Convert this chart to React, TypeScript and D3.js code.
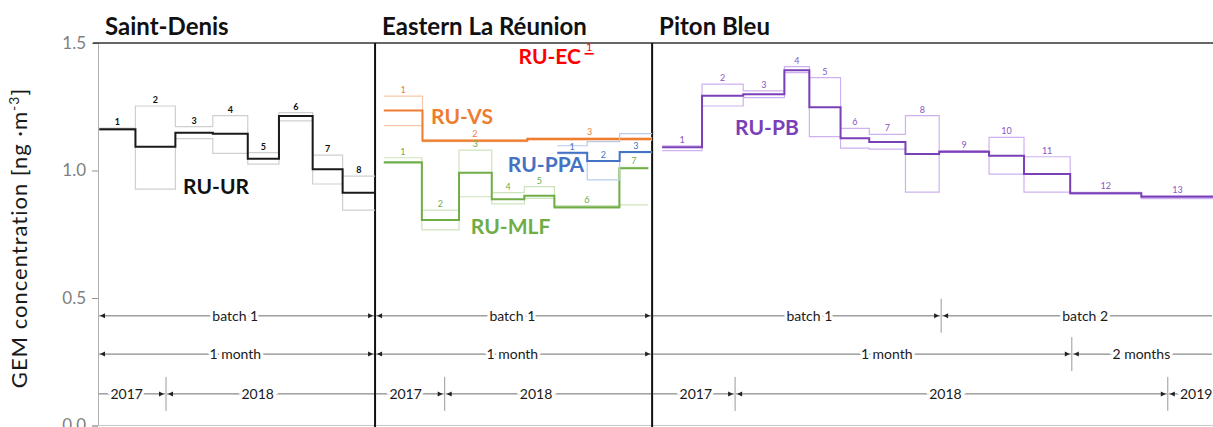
import React, { useEffect, useRef } from "react";
import * as d3 from "d3";

/*
    GEM concentration step chart for three La Réunion sites.
    Sample boundaries are days since the start of each panel's time window.
*/

// Saint-Denis, RU-UR
const urBounds = [1, 30, 62, 92, 120, 145, 172, 196, 222];
const urMean = [1.162, 1.093, 1.148, 1.144, 1.046, 1.214, 1.005, 0.913];
const urHigh = [1.166, 1.253, 1.172, 1.215, 1.07, 1.227, 1.06, 0.978];
const urLow = [1.158, 0.927, 1.125, 1.067, 1.025, 1.195, 0.947, 0.845];

// Eastern La Réunion
const vsBounds = [7, 38, 122, 222];
const vsMean = [1.235, 1.117, 1.124];
const vsHigh = [1.292, 1.121, 1.128];
const vsLow = [1.176, 1.113, 1.119];

const mlfBounds = [7, 37.5, 67.3, 93.5, 119.6, 143.7, 195.8, 219];
const mlfMean = [1.032, 0.806, 0.991, 0.887, 0.901, 0.856, 1.009];
const mlfHigh = [1.05, 0.845, 1.08, 0.913, 0.937, 0.862, 1.012];
const mlfLow = [1.028, 0.767, 0.897, 0.869, 0.891, 0.852, 0.865];

const ppaBounds = [146, 170, 196, 222];
const ppaMean = [1.07, 1.037, 1.073];
const ppaHigh = [1.097, 1.113, 1.145];
const ppaLow = [1.066, 0.963, 1.07];

const ecBounds = [168, 175];
const ecMean = [1.458];

// Piton Bleu, RU-PB
const pbBounds = [8, 40, 73, 106, 126, 151, 174, 203, 230, 270, 298, 335, 392, 450];
const pbMean = [1.091, 1.293, 1.299, 1.393, 1.248, 1.126, 1.112, 1.065, 1.074, 1.058, 0.986, 0.911, 0.897];
const pbHigh = [1.097, 1.339, 1.312, 1.407, 1.364, 1.165, 1.142, 1.215, 1.078, 1.13, 1.054, 0.914, 0.901];
const pbLow = [1.078, 1.253, 1.286, 1.384, 1.133, 1.088, 1.084, 0.915, 1.071, 0.986, 0.915, 0.908, 0.89];

const yTicks = [0, 0.5, 1.0, 1.5];
const panelTitles = ["Saint-Denis", "Eastern La Réunion", "Piton Bleu"];
const panelDays = [222, 222, 450];

// annotation rows: [label, start, end, label position] in days
const batchRows = [
    [["batch 1", 0, 222, 110]],
    [["batch 1", 0, 222, 110]],
    [["batch 1", 0, 231.6, 126], ["batch 2", 231.6, 450, 347]],
];
const monthRows = [
    [["1 month", 0, 222, 110]],
    [["1 month", 0, 222, 110]],
    [["1 month", 0, 336.3, 188], ["2 months", 336.3, 450, 392]],
];
const yearRows = [
    [["2017", 0, 54.5, 23], ["2018", 54.5, 222, 128]],
    [["2017", 0, 55.8, 24.5], ["2018", 55.8, 222, 129]],
    [["2017", 0, 66.5, 35], ["2018", 66.5, 413.2, 235], ["2019", 413.2, 450, 436]],
];

const App = () => {
    const svgRef = useRef(null);
    const width = 1213;
    const height = 427;
    const pxPerDay = 1.248;
    const axisX = 98;

    useEffect(() => {
        const svg = d3.select(svgRef.current);
        svg.selectAll("*").remove();

        const y = d3.scaleLinear().domain([0, 1.5]).range([425.5, 43]);

        let start = axisX;
        const xs = panelDays.map((days) => {
            const s = d3.scaleLinear().domain([0, days]).range([start, start + days * pxPerDay]);
            start += days * pxPerDay;
            return s;
        });

        const font = "Lato, 'Open Sans', sans-serif";

        // y axis
        const yAxis = d3.axisLeft(y).tickValues(yTicks).tickFormat(d3.format(".1f")).tickSize(6);
        const gy = svg.append("g").attr("transform", `translate(${axisX},0)`).call(yAxis);
        gy.select(".domain").attr("stroke", "#b0b0b0");
        gy.selectAll(".tick line").attr("stroke", "#909090");
        gy.selectAll(".tick text")
            .attr("fill", "#808080")
            .attr("font-size", 17)
            .attr("font-family", font)
            .attr("x", -12);

        svg.append("line")
            .attr("x1", axisX).attr("x2", width)
            .attr("y1", y(0)).attr("y2", y(0))
            .attr("stroke", "#c8c8c8");

        const yLabel = svg.append("text")
            .attr("transform", `translate(27,${238}) rotate(-90)`)
            .attr("text-anchor", "middle")
            .attr("font-family", font)
            .attr("font-size", 22)
            .attr("letter-spacing", 1)
            .attr("fill", "#1a1a1a");
        yLabel.append("tspan").text("GEM concentration [ng ·m");
        yLabel.append("tspan").text("-3").attr("font-size", 14).attr("dy", -8);
        yLabel.append("tspan").text("]").attr("dy", 8);

        // top border and panel dividers
        svg.append("line")
            .attr("x1", axisX - 5).attr("x2", width)
            .attr("y1", y(1.5)).attr("y2", y(1.5))
            .attr("stroke", "#333").attr("stroke-width", 1.5);
        [xs[1].range()[0], xs[2].range()[0]].forEach((xv) => {
            svg.append("line")
                .attr("x1", xv).attr("x2", xv)
                .attr("y1", y(1.5)).attr("y2", height)
                .attr("stroke", "#111").attr("stroke-width", 2);
        });

        // titles
        panelTitles.forEach((t, i) => {
            svg.append("text")
                .attr("x", xs[i].range()[0] + 7)
                .attr("y", 35)
                .attr("font-family", font)
                .attr("font-weight", 700)
                .attr("font-size", 24)
                .attr("fill", "#111")
                .text(t);
        });

        const stepLine = d3.line().curve(d3.curveStepAfter);
        const stepPoints = (x, bounds, vals) => {
            const pts = vals.map((v, i) => [x(bounds[i]), y(v)]);
            pts.push([x(bounds[bounds.length - 1]), y(vals[vals.length - 1])]);
            return pts;
        };

        const series = [
            { x: xs[0], bounds: urBounds, mean: urMean, high: urHigh, low: urLow, color: "#1a1a1a", light: "#cfcfcf", numColor: "#111", numBold: true },
            { x: xs[1], bounds: vsBounds, mean: vsMean, high: vsHigh, low: vsLow, color: "#ed7d31", light: "#f7c9a8", numColor: "#ed7d31" },
            { x: xs[1], bounds: mlfBounds, mean: mlfMean, high: mlfHigh, low: mlfLow, color: "#70ad47", light: "#cde3bd", numColor: "#70ad47" },
            { x: xs[1], bounds: ppaBounds, mean: ppaMean, high: ppaHigh, low: ppaLow, color: "#4472c4", light: "#b9cbea", numColor: "#4472c4", numOnMean: true },
            { x: xs[1], bounds: ecBounds, mean: ecMean, high: ecMean, low: ecMean, color: "#ff0000", light: "#ff0000", numColor: "#ff0000", thin: true },
            { x: xs[2], bounds: pbBounds, mean: pbMean, high: pbHigh, low: pbLow, color: "#7b3fb8", light: "#cdb1f0", numColor: "#8a55c4" },
        ];

        series.forEach((s) => {
            [s.high, s.low].forEach((rep) => {
                svg.append("path")
                    .attr("d", stepLine(stepPoints(s.x, s.bounds, rep)))
                    .attr("fill", "none")
                    .attr("stroke", s.light)
                    .attr("stroke-width", 1.2);
            });
            svg.append("path")
                .attr("d", stepLine(stepPoints(s.x, s.bounds, s.mean)))
                .attr("fill", "none")
                .attr("stroke", s.color)
                .attr("stroke-width", s.thin ? 1 : 2);

            s.mean.forEach((v, i) => {
                const top = s.numOnMean ? v : Math.max(v, s.high[i]);
                svg.append("text")
                    .attr("x", (s.x(s.bounds[i]) + s.x(s.bounds[i + 1])) / 2)
                    .attr("y", y(top) - 3)
                    .attr("text-anchor", "middle")
                    .attr("font-family", font)
                    .attr("font-size", s.thin ? 11 : 9)
                    .attr("font-weight", s.numBold ? 700 : 400)
                    .attr("fill", s.numColor)
                    .text(i + 1);
            });
        });

        // series names
        const names = [
            ["RU-UR", xs[0], 94.6, 0.935, "#111"],
            ["RU-VS", xs[1], 69.7, 1.21, "#ed7d31"],
            ["RU-PPA", xs[1], 137, 1.021, "#4472c4"],
            ["RU-MLF", xs[1], 108.6, 0.778, "#70ad47"],
            ["RU-EC", xs[1], 140, 1.445, "#ff0000"],
            ["RU-PB", xs[2], 92, 1.167, "#7b3fb8"],
        ];
        names.forEach(([t, x, d, v, c]) => {
            svg.append("text")
                .attr("x", x(d))
                .attr("y", y(v))
                .attr("dy", "0.35em")
                .attr("text-anchor", "middle")
                .attr("font-family", font)
                .attr("font-weight", 700)
                .attr("font-size", 21)
                .attr("fill", c)
                .text(t);
        });

        // annotation rows
        const arrow = (xv, yv, dir) => {
            svg.append("path")
                .attr("d", `M${xv},${yv} l${-5 * dir},-2.5 l0,5 z`)
                .attr("fill", "#222");
        };
        const drawRow = (rows, value, edgeArrows) => {
            const yv = y(value);
            rows.forEach((segs, p) => {
                const x = xs[p];
                const [d0, d1] = x.domain();
                segs.forEach(([label, a, b, at]) => {
                    const xa = x(a) + 1;
                    const xb = Math.min(x(b), width) - 1;
                    svg.append("line")
                        .attr("x1", xa).attr("x2", xb)
                        .attr("y1", yv).attr("y2", yv)
                        .attr("stroke", "#6e6e6e").attr("stroke-width", 1);
                    if (a > d0 || (edgeArrows && p < 2)) arrow(xa + 1, yv, -1);
                    if (b < d1 || (edgeArrows && p < 2)) arrow(xb - 1, yv, 1);
                    if (b < d1) {
                        svg.append("line")
                            .attr("x1", x(b)).attr("x2", x(b))
                            .attr("y1", yv - 17).attr("y2", yv + 17)
                            .attr("stroke", "#9a9a9a");
                    }
                    svg.append("text")
                        .attr("x", x(at))
                        .attr("y", yv)
                        .attr("dy", "0.35em")
                        .attr("text-anchor", "middle")
                        .attr("font-family", font)
                        .attr("font-size", 14)
                        .attr("fill", "#1a1a1a")
                        .attr("stroke", "white")
                        .attr("stroke-width", 6)
                        .attr("paint-order", "stroke")
                        .text(label);
                });
            });
        };
        drawRow(batchRows, 0.43, true);
        drawRow(monthRows, 0.28, true);
        drawRow(yearRows, 0.124, false);
    });

    return (
        <div style={{ position: "fixed", left: 0, top: 0, background: "white" }}>
            <svg ref={svgRef} width={width} height={height}></svg>
        </div>
    );
};

export default App;
